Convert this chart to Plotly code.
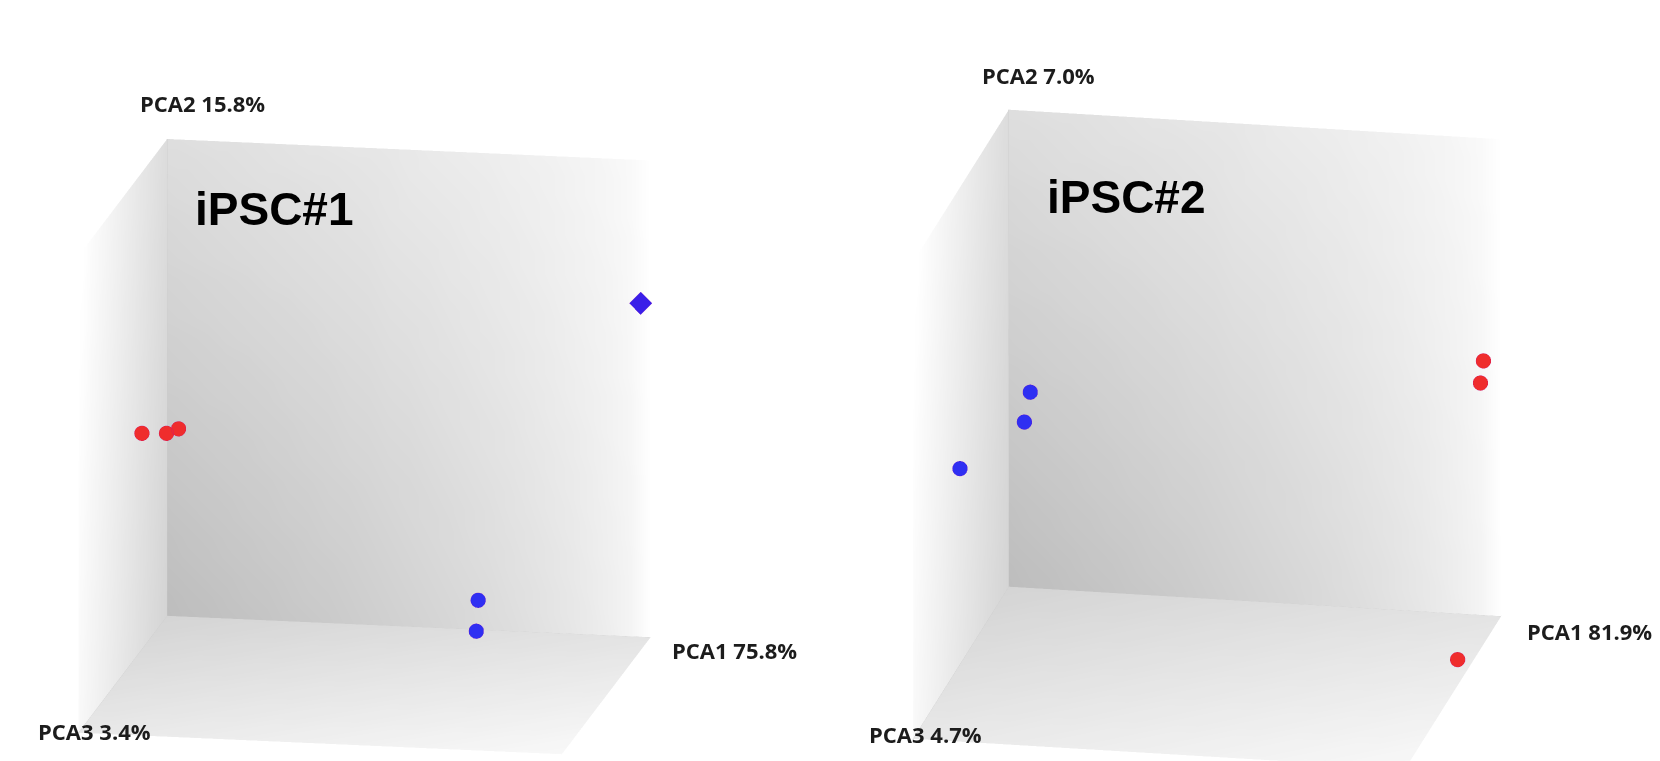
import math
import numpy as np
import plotly.graph_objects as go

FIG_W, FIG_H = 1660, 761

# ---------------- iPSC#1 ----------------
ipsc1_var = [75.8, 15.8, 3.4]                 # % variance of PCA1, PCA2, PCA3
ipsc1_range = [(-40, 40), (-20, 20), (-10, 10)]
ipsc1_red_pca1 = [-37.6, -32.8, -33.0]
ipsc1_red_pca2 = [-0.2, 0.4, -0.7]
ipsc1_red_pca3 = [-1.0, 0.0, -3.0]
ipsc1_blue_pca1 = [38.9, 12.9, 12.6]
ipsc1_blue_pca2 = [8.4, -16.5, -19.1]
ipsc1_blue_pca3 = [-9.2, -8.0, -8.0]
ipsc1_blue_symbol = ["diamond", "circle", "circle"]

# ---------------- iPSC#2 ----------------
ipsc2_var = [81.9, 7.0, 4.7]
ipsc2_range = [(-50, 50), (-15, 15), (-10, 10)]
ipsc2_red_pca1 = [48.3, 47.7, 48.5]
ipsc2_red_pca2 = [2.0, 0.6, -14.1]
ipsc2_red_pca3 = [-8.0, -8.0, -2.4]
ipsc2_blue_pca1 = [-37.9, -39.1, -44.4]
ipsc2_blue_pca2 = [1.3, -0.6, 0.2]
ipsc2_blue_pca3 = [-2.0, -2.0, 6.0]
ipsc2_blue_symbol = ["circle", "circle", "circle"]

RED = "#ef2d2d"
BLUE = "#2f2ff2"
DIAMOND = "#3a1fe8"
MARKER_SIZE = {"circle": 17.5, "diamond": 15}

# scene axes: x = PCA1, y = PCA3 (reversed, grows toward the viewer), z = PCA2 (up)


def wall(kind, rng, scene, n=24):
    (x0, x1), (z0, z1), (y0, y1) = rng
    s = np.linspace(0, 1, n + 1)
    S, T = np.meshgrid(s, s, indexing="ij")
    if kind == "back":          # PCA3 at its low end
        X = x0 + S * (x1 - x0)
        Z = z0 + T * (z1 - z0)
        Y = np.full_like(S, y0)
        L = 255 - 66 * (1 - S) ** 0.55 * (1 - 0.5 * T)
    elif kind == "left":        # PCA1 at its low end
        X = np.full_like(S, x0)
        Y = y0 + S * (y1 - y0)
        Z = z0 + T * (z1 - z0)
        L = 212 + 37 * S + 8 * T
    else:                       # floor, PCA2 at its low end
        X = x0 + S * (x1 - x0)
        Y = y0 + T * (y1 - y0)
        Z = np.full_like(S, z0)
        L = 212 + 16 * S + 20 * T
    L = np.clip(L, 0, 255).round().astype(int)
    I, J, K = [], [], []
    for a in range(n):
        for b in range(n):
            p = a * (n + 1) + b
            I += [p, p + 1]
            J += [p + n + 1, p + n + 1]
            K += [p + 1, p + n + 2]
    return go.Mesh3d(
        x=X.ravel(), y=Y.ravel(), z=Z.ravel(), i=I, j=J, k=K,
        vertexcolor=[f"rgb({g},{g},{g})" for g in L.ravel()],
        lighting=dict(ambient=1.0, diffuse=0.0, specular=0.0, roughness=1.0, fresnel=0.0),
        hoverinfo="skip", showscale=False, scene=scene,
    )


def edges(rng, scene):
    (x0, x1), (z0, z1), (y0, y1) = rng
    return go.Scatter3d(
        x=[x1, x0, x0, None, x0, x0],
        y=[y0, y0, y1, None, y0, y0],
        z=[z0, z0, z0, None, z0, z1],
        mode="lines", line=dict(color="rgb(203,203,203)", width=2),
        hoverinfo="skip", showlegend=False, scene=scene,
    )


def points(p1, p2, p3, color, symbols, scene):
    return go.Scatter3d(
        x=p1, y=p3, z=p2, mode="markers",
        marker=dict(size=[MARKER_SIZE[s] for s in symbols], color=color,
                    symbol=symbols, opacity=1,
                    line=dict(color="rgba(60,0,60,0.35)", width=1)),
        hoverinfo="skip", showlegend=False, scene=scene,
    )


# orthographic scene: pixels per world unit in a full-height (761 px) scene
PX_PER_UNIT = 377.0


def ortho_camera(yaw, elev, dist, target, view_center):
    ph, th = math.radians(yaw), math.radians(elev)
    u = np.array([math.cos(ph), math.sin(ph), 0.0])
    v = np.array([-math.sin(ph) * math.sin(th), math.cos(ph) * math.sin(th), math.cos(th)])
    w = np.array([math.sin(ph) * math.cos(th), -math.cos(ph) * math.cos(th), math.sin(th)])
    d = (view_center[0] - target[0]) / PX_PER_UNIT * u + (target[1] - view_center[1]) / PX_PER_UNIT * v
    eye = d + dist * w
    return dict(
        eye=dict(x=eye[0], y=eye[1], z=eye[2]),
        center=dict(x=d[0], y=d[1], z=d[2]),
        up=dict(x=0, y=0, z=1),
        projection=dict(type="orthographic"),
    )


LABEL_FONT = dict(family="Open Sans", size=22, color="#1c1c1c")


def scene_layout(rng, var, camera, side_px, domain_x, shifts):
    (x0, x1), (z0, z1), (y0, y1) = rng
    ax = dict(visible=False, showspikes=False, autorange=False)
    (s1x, s1y), (s2x, s2y), (s3x, s3y) = shifts
    r = side_px / PX_PER_UNIT
    return dict(
        domain=dict(x=domain_x, y=[0, 1]),
        xaxis=dict(ax, range=[x0, x1]),
        yaxis=dict(ax, range=[y1, y0]),
        zaxis=dict(ax, range=[z0, z1]),
        aspectmode="manual",
        aspectratio=dict(x=r, y=r, z=r),
        bgcolor="rgba(0,0,0,0)",
        camera=camera,
        annotations=[
            dict(x=x1, y=y0, z=z0, text=f"<b>PCA1 {var[0]}%</b>", showarrow=False,
                 xanchor="left", yanchor="middle", xshift=s1x, yshift=s1y, font=LABEL_FONT),
            dict(x=x0, y=y0, z=z1, text=f"<b>PCA2 {var[1]}%</b>", showarrow=False,
                 xanchor="center", yanchor="middle", xshift=s2x, yshift=s2y, font=LABEL_FONT),
            dict(x=x0, y=y1, z=z0, text=f"<b>PCA3 {var[2]}%</b>", showarrow=False,
                 xanchor="left", yanchor="middle", xshift=s3x, yshift=s3y, font=LABEL_FONT),
        ],
    )


fig = go.Figure()
for kind in ("back", "left", "floor"):
    fig.add_trace(wall(kind, ipsc1_range, "scene"))
    fig.add_trace(wall(kind, ipsc2_range, "scene2"))
fig.add_trace(edges(ipsc1_range, "scene"))
fig.add_trace(edges(ipsc2_range, "scene2"))

fig.add_trace(points(ipsc1_red_pca1, ipsc1_red_pca2, ipsc1_red_pca3, RED,
                     ["circle"] * len(ipsc1_red_pca1), "scene"))
fig.add_trace(points(ipsc1_blue_pca1, ipsc1_blue_pca2, ipsc1_blue_pca3,
                     [DIAMOND if s == "diamond" else BLUE for s in ipsc1_blue_symbol],
                     ipsc1_blue_symbol, "scene"))
fig.add_trace(points(ipsc2_red_pca1, ipsc2_red_pca2, ipsc2_red_pca3, RED,
                     ["circle"] * len(ipsc2_red_pca1), "scene2"))
fig.add_trace(points(ipsc2_blue_pca1, ipsc2_blue_pca2, ipsc2_blue_pca3, BLUE,
                     ipsc2_blue_symbol, "scene2"))

cam1 = ortho_camera(10.4, 14.0, 1.886, (365, 446), (415, 380.5))
cam2 = ortho_camera(11.0, 18.0, 1.848, (1207.5, 438.5), (1245, 380.5))

fig.update_layout(
    width=FIG_W, height=FIG_H,
    margin=dict(l=0, r=0, t=0, b=0),
    paper_bgcolor="white",
    showlegend=False,
    scene=scene_layout(ipsc1_range, ipsc1_var, cam1, 487, [0, 0.5],
                       [(19, -13), (35, 36), (-42, 2)]),
    scene2=scene_layout(ipsc2_range, ipsc2_var, cam2, 497, [0.5, 1],
                        [(24, -15), (30, 35), (-46, 5)]),
    annotations=[
        dict(xref="paper", yref="paper", x=193 / FIG_W, y=1 - 209 / FIG_H,
             text="<b>iPSC#1</b>", showarrow=False, xanchor="left", yanchor="middle",
             font=dict(family="Liberation Sans", size=46, color="black")),
        dict(xref="paper", yref="paper", x=1045 / FIG_W, y=1 - 196.5 / FIG_H,
             text="<b>iPSC#2</b>", showarrow=False, xanchor="left", yanchor="middle",
             font=dict(family="Liberation Sans", size=46, color="black")),
    ],
)

fig.write_html("out.html", config={"displayModeBar": False})
